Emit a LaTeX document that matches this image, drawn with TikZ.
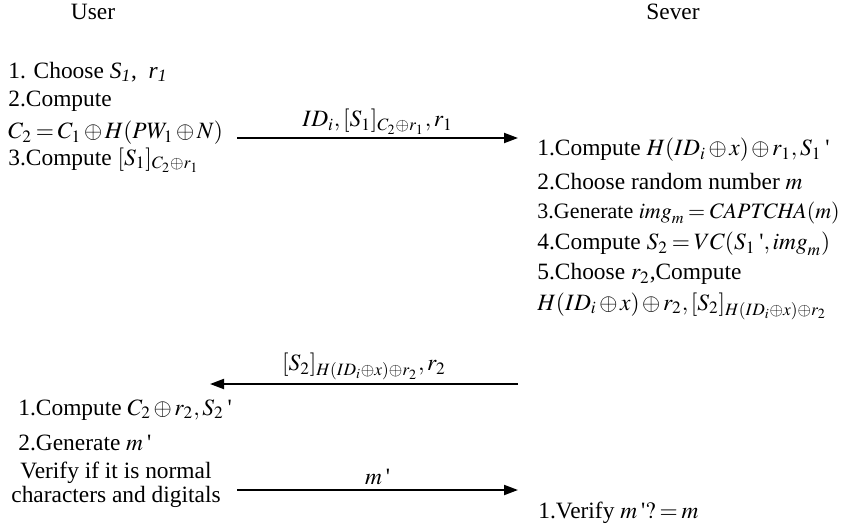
\documentclass[tikz,border=0pt]{standalone}
\usepackage{mathptmx}
\usepackage{fontspec}
\setmainfont{Liberation Serif}
\usetikzlibrary{arrows.meta}
\newcommand{\apos}{\,\textquotesingle}
\thickmuskip=3mu plus 2mu
\medmuskip=2mu plus 1mu

\begin{document}
\begin{tikzpicture}[x=0.5pt,y=-0.5pt,every node/.style={font=\fontsize{11.7}{13}\selectfont,inner sep=0pt},
  msg/.style={-{Triangle[length=7pt,width=5pt]},line width=1pt},
  step left/.style={anchor=west}]
    \useasboundingbox (0,0) rectangle (845,525);
    % parties
    \node (user) at (93,12) {User};
    \node (sever) at (673,12) {Sever};
    % user, first round
    \node[step left] (u1) at (8,72) {1. Choose \textit{S}\textsubscript{\textit{1}},\enspace \textit{r}\textsubscript{\textit{1}}};
    \node[step left] (u2) at (8,101) {2.Compute};
    \node[step left] (u3) at (8,133) {$C_2=C_1\oplus H(PW_1\oplus N)$};
    \node[step left] (u4) at (8,160) {3.Compute $[S_1]_{C_2\oplus r_1}$};
    % message 1
    \coordinate (m1a) at (237,138);
    \coordinate (m1b) at (518,138);
    \draw[msg] (m1a) -- (m1b) node[midway,above=1.5pt] (l1) {$ID_i,[S_1]_{C_2\oplus r_1},r_1$};
    % server
    \node[step left] (s1) at (537,150) {1.Compute $H(ID_i\oplus x)\oplus r_1,S_1$\apos};
    \node[step left] (s2) at (537,182) {2.Choose random number $m$};
    \node[step left,font=\fontsize{11}{13}\selectfont] (s3) at (537,213) {3.Generate $\mathit{img}_m=\mathit{CAPTCHA}(m)$};
    \node[step left] (s4) at (537,244) {4.Compute $S_2=VC(S_1\mbox{\apos},\mathit{img}_m)$};
    \node[step left] (s5) at (537,274) {5.Choose $r_2$,Compute};
    \node[step left] (s6) at (537,306) {$H(ID_i\oplus x)\oplus r_2,[S_2]_{H(ID_i\oplus x)\oplus r_2}$};
    % message 2
    \coordinate (m2a) at (518,384);
    \coordinate (m2b) at (210,384);
    \draw[msg] (m2a) -- (m2b) node[midway,above=1.5pt] (l2) {$[S_2]_{H(ID_i\oplus x)\oplus r_2},r_2$};
    % user, second round
    \node[step left] (u5) at (18,410) {1.Compute $C_2\oplus r_2,S_2$\apos};
    \node[step left] (u6) at (18,443) {2.Generate $m$\apos};
    \node[align=center] (u7) at (116,485) {Verify if it is normal\\[-1pt]characters and digitals};
    % message 3
    \coordinate (m3a) at (237,490);
    \coordinate (m3b) at (518,490);
    \draw[msg] (m3a) -- (m3b) node[midway,above=2pt] (l3) {$m$\apos};
    % server check
    \node[step left] (s7) at (538,513) {1.Verify $m$\apos$?=m$};
\end{tikzpicture}
\end{document}
